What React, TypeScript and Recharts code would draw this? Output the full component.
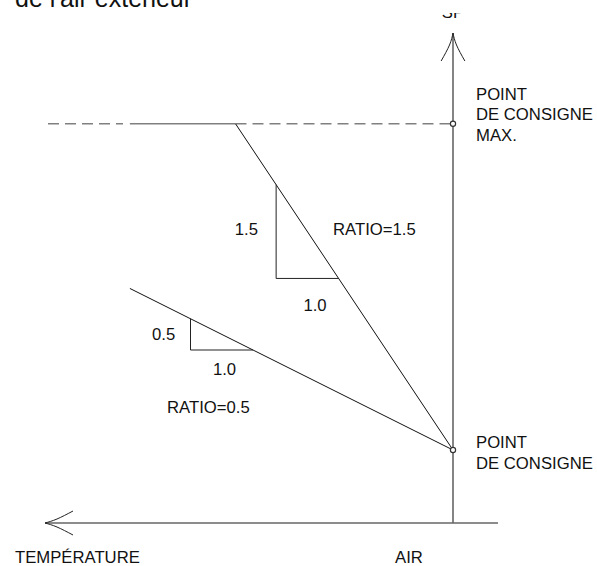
import React from "react";
import { LineChart, Line, XAxis, YAxis, ReferenceDot } from "recharts";

// Units: x = outdoor temperature offset (grows to the left, 0 at the SP axis),
// y = setpoint offset above the base setpoint.
const SP_MAX = 5.22;
const SP_BASE = 0;

const steepLine = [ { x: 3.48, y: SP_MAX }, { x: 0, y: SP_BASE } ]; // ratio 1.5
const shallowLine = [ { x: 5.17, y: 2.585 }, { x: 0, y: SP_BASE } ]; // ratio 0.5
const spMaxDashLeft = [ { x: 6.48, y: SP_MAX }, { x: 5.28, y: SP_MAX } ];
const spMaxSolid = [ { x: 5.17, y: SP_MAX }, { x: 3.48, y: SP_MAX } ];
const spMaxDashRight = [ { x: 3.48, y: SP_MAX }, { x: 0, y: SP_MAX } ];
const triangle15 = [ { x: 2.83, y: 4.245 }, { x: 2.83, y: 2.745 }, { x: 1.83, y: 2.745 } ];
const triangle05 = [ { x: 4.2, y: 2.1 }, { x: 4.2, y: 1.6 }, { x: 3.2, y: 1.6 } ];

const spAxis = [ { x: 0, y: 6.672 }, { x: 0, y: -1.168 } ];
const tempAxis = [ { x: 6.528, y: -1.168 }, { x: -0.72, y: -1.168 } ];
const spArrowLeft = [ { x: 0, y: 6.672 }, { x: 0.056, y: 6.48 }, { x: 0.19, y: 6.224 } ];
const spArrowRight = [ { x: 0, y: 6.672 }, { x: -0.056, y: 6.48 }, { x: -0.19, y: 6.224 } ];
const tempArrowUp = [ { x: 6.528, y: -1.168 }, { x: 6.336, y: -1.104 }, { x: 6.08, y: -0.976 } ];
const tempArrowDown = [ { x: 6.528, y: -1.168 }, { x: 6.336, y: -1.232 }, { x: 6.08, y: -1.36 } ];

const setpointMarkers = [ { x: 0, y: SP_MAX }, { x: 0, y: SP_BASE } ];

type Note = { x: number; y: number; text: string; anchor: "start" | "middle" | "end"; size?: number; clipTop?: number };
const notes: Note[] = [
  { x: 7.008, y: 7.088, text: "de l'air extérieur", anchor: "start", size: 25 },
  { x: 0, y: 6.912, text: "SP", anchor: "middle", clipTop: 13 },
  { x: -0.368, y: 5.608, text: "POINT", anchor: "start" },
  { x: -0.368, y: 5.28, text: "DE CONSIGNE", anchor: "start" },
  { x: -0.368, y: 4.952, text: "MAX.", anchor: "start" },
  { x: -0.368, y: 0.032, text: "POINT", anchor: "start" },
  { x: -0.368, y: -0.296, text: "DE CONSIGNE", anchor: "start" },
  { x: 3.12, y: 3.44, text: "1.5", anchor: "end" },
  { x: 1.92, y: 3.44, text: "RATIO=1.5", anchor: "start" },
  { x: 2.208, y: 2.224, text: "1.0", anchor: "middle" },
  { x: 4.816, y: 1.76, text: "0.5", anchor: "start" },
  { x: 3.656, y: 1.2, text: "1.0", anchor: "middle" },
  { x: 4.576, y: 0.592, text: "RATIO=0.5", anchor: "start" },
  { x: 7.008, y: -1.808, text: "TEMPÉRATURE", anchor: "start" },
  { x: 0.928, y: -1.808, text: "AIR", anchor: "start" },
];

const FONT = "'Liberation Sans', Arial, sans-serif";

function seg(data: { x: number; y: number }[], key: string, stroke: string, width: number, dash?: string, curve: any = "linear") {
  return (
    <Line
      key={key}
      data={data}
      dataKey="y"
      type={curve}
      stroke={stroke}
      strokeWidth={width}
      strokeDasharray={dash}
      dot={false}
      activeDot={false}
      isAnimationActive={false}
      legendType="none"
    />
  );
}

export default function App() {
  return (
    <div style={{ position: "absolute", left: 0, top: 0, background: "#fff" }}>
      <LineChart width={597} height={566} margin={{ top: 0, right: 0, bottom: 0, left: 0 }}>
        <XAxis type="number" dataKey="x" domain={[-2.304, 7.248]} reversed hide allowDataOverflow />
        <YAxis type="number" domain={[-1.856, 7.2]} hide allowDataOverflow />
        {seg(spAxis, "spAxis", "#666", 1.6)}
        {seg(tempAxis, "tempAxis", "#666", 1.6)}
        {seg(spArrowLeft, "a1", "#222", 1, undefined, "natural")}
        {seg(spArrowRight, "a2", "#222", 1, undefined, "natural")}
        {seg(tempArrowUp, "a3", "#222", 1, undefined, "natural")}
        {seg(tempArrowDown, "a4", "#222", 1, undefined, "natural")}
        {seg(spMaxDashLeft, "d1", "#808080", 1.6, "11 6")}
        {seg(spMaxSolid, "d2", "#808080", 1.6)}
        {seg(spMaxDashRight, "d3", "#808080", 1.6, "11 6")}
        {seg(steepLine, "steep", "#111", 1)}
        {seg(shallowLine, "shallow", "#111", 1)}
        {seg(triangle15, "t15", "#222", 1)}
        {seg(triangle05, "t05", "#222", 1)}
        {setpointMarkers.map((m, i) => (
          <ReferenceDot key={"m" + i} x={m.x} y={m.y} r={2.6} fill="#fff" stroke="#333" strokeWidth={1.2} ifOverflow="visible" />
        ))}
        {notes.map((n, i) => (
          <ReferenceDot
            key={"n" + i}
            x={n.x}
            y={n.y}
            r={0}
            ifOverflow="visible"
            shape={(p: any) => {
              const t = (
                <text
                  x={p.cx}
                  y={p.cy}
                  textAnchor={n.anchor}
                  fontFamily={FONT}
                  fontSize={n.size ?? 16.7}
                  fill="#111"
                >
                  {n.text}
                </text>
              );
              if (n.clipTop === undefined) return t;
              const id = "clip" + i;
              return (
                <g>
                  <defs>
                    <clipPath id={id}>
                      <rect x={p.cx - 30} y={n.clipTop} width={60} height={40} />
                    </clipPath>
                  </defs>
                  <g clipPath={`url(#${id})`}>{t}</g>
                </g>
              );
            }}
          />
        ))}
      </LineChart>
    </div>
  );
}
